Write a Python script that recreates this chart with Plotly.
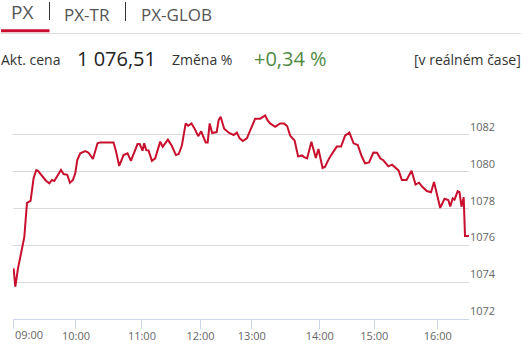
import plotly.graph_objects as go

# ordinal position of each sample (trading-time index) and PX index value
pos = [0.3, 2, 4.7, 8.7, 11, 13.7, 17.3, 20.3, 23, 24.7, 28.7, 32.7, 36, 38.7, 41, 43.7,
       47.7, 50.3, 54, 56.7, 59.7, 62, 64, 67, 72, 75.3, 79.7, 84.3, 87, 100.3, 102.5, 106,
       110.3, 114.3, 117.7, 124.3, 126.5, 129.3, 131, 133, 135.3, 138.7, 142, 147, 149.5,
       154.7, 158.7, 162.7, 165.5, 168.7, 172.5, 175, 178.3, 181.3, 185, 188, 192.5, 194.5,
       196.5, 199, 203.5, 205.5, 207.5, 211, 216, 220.5, 223.7, 226.5, 229.7, 233.7, 237.7,
       242, 247, 252, 254.5, 257, 262, 267, 271, 274, 277, 281.5, 285, 289, 291, 294, 298.3,
       300.5, 302.7, 305.3, 309.5, 312, 316, 321.3, 323.7, 328, 332, 336.3, 340.5, 344.7,
       348.5, 352, 356, 360.3, 364, 367.3, 370.3, 375.3, 379, 385.5, 388.8, 393.5, 398.5,
       402.5, 406, 409.3, 413.8, 418, 421, 427.2, 431.5, 435.3, 437.2, 439.7, 441.5, 444.7,
       446.5, 448.5, 450.7, 452, 456]
values = [1074.75, 1073.75, 1074.75, 1075.75, 1076.44, 1078.31, 1078.42, 1079.64, 1080.09,
          1080.05, 1079.76, 1079.51, 1079.37, 1079.55, 1079.49, 1079.76, 1080.09, 1079.87,
          1079.83, 1079.40, 1079.55, 1079.91, 1080.63, 1081.00, 1081.12, 1081.03, 1080.69,
          1081.54, 1081.59, 1081.59, 1081.17, 1080.31, 1080.90, 1081.00, 1080.59, 1081.50,
          1081.50, 1081.14, 1081.54, 1081.17, 1081.15, 1080.59, 1080.72, 1081.63, 1081.35,
          1081.74, 1081.39, 1080.90, 1080.96, 1081.42, 1082.62, 1082.49, 1082.62, 1082.35,
          1081.93, 1082.19, 1081.59, 1081.59, 1082.62, 1082.10, 1082.15, 1082.80, 1082.98,
          1082.33, 1082.10, 1081.99, 1082.12, 1081.81, 1081.66, 1081.81, 1082.35, 1082.88,
          1082.88, 1083.05, 1082.78, 1082.62, 1082.44, 1082.62, 1082.61, 1082.48, 1081.96,
          1081.69, 1080.83, 1080.88, 1080.79, 1080.72, 1081.63, 1081.17, 1080.74, 1081.23,
          1080.20, 1080.27, 1080.72, 1081.17, 1081.36, 1081.36, 1081.96, 1082.12, 1081.54,
          1081.45, 1080.85, 1080.45, 1080.50, 1081.04, 1081.03, 1080.71, 1080.62, 1080.29,
          1080.38, 1080.07, 1079.55, 1079.55, 1080.05, 1079.30, 1079.40, 1079.18, 1078.95,
          1078.88, 1079.44, 1078.03, 1078.53, 1078.46, 1078.11, 1078.55, 1078.48, 1078.94,
          1078.89, 1078.10, 1078.61, 1076.51, 1076.51]

x_tick_pos = [-0.3, 62.7, 128.7, 187.3, 238.7, 306.7, 361.3, 424.7]
x_tick_labels = ["09:00", "10:00", "11:00", "12:00", "13:00", "14:00", "15:00", "16:00"]
y_tick_vals = [1072, 1074, 1076, 1078, 1080, 1082, 1084]
y_tick_labels = ["1072", "1074", "1076", "1078", "1080", "1082", ""]

tabs = ["PX", "PX-TR", "PX-GLOB"]
price_label = "Akt. cena"
price_value = "1 076,51"
change_label = "Změna %"
change_value = "+0,34 %"
realtime_label = "[v reálném čase]"

W, H = 524, 346
L, R, T, B = 13, 469, 98, 319
RED = "#c8102e"
FONT = "Open Sans"


def px(x):
    return (x - L) / (R - L)


def py(y):
    return (B - y) / (B - T)


fig = go.Figure()
fig.add_trace(go.Scatter(x=pos, y=values, mode="lines",
                         line=dict(color=RED, width=2), hoverinfo="skip"))

annotations = []


def txt(text, x, y, size, color, anchor="left"):
    annotations.append(dict(text=text, x=px(x), y=py(y), xref="paper", yref="paper",
                            xanchor=anchor, yanchor="middle", showarrow=False,
                            font=dict(family=FONT, size=size, color=color)))


txt(tabs[0], 9, 12, 19, "#555555")
txt(tabs[1], 62, 14, 17, "#555555")
txt(tabs[2], 139, 14, 17, "#555555")
txt(price_label, -1, 60, 14, "#333333")
txt(price_value, 75, 59, 20, "#222222")
txt(change_label, 170, 60, 14, "#333333")
txt(change_value, 252, 59, 20, "#4f8a43")
txt(realtime_label, 412, 60, 14, "#333333")
# first x label left-aligned at its tick
annotations.append(dict(text=x_tick_labels[0], x=x_tick_pos[0], y=py(334), xref="x",
                        yref="paper", xanchor="left", yanchor="middle", showarrow=False,
                        font=dict(family=FONT, size=11, color="#666666")))

shapes = [
    dict(type="line", xref="paper", yref="paper", x0=px(0), x1=px(521), y0=py(33.5), y1=py(33.5),
         line=dict(color="#dddddd", width=1)),
    dict(type="line", xref="paper", yref="paper", x0=px(1), x1=px(49.5), y0=py(30.8), y1=py(30.8),
         line=dict(color=RED, width=3)),
    dict(type="line", xref="paper", yref="paper", x0=px(49.5), x1=px(49.5), y0=py(2), y1=py(20),
         line=dict(color="#333333", width=1)),
    dict(type="line", xref="paper", yref="paper", x0=px(125.5), x1=px(125.5), y0=py(2), y1=py(21),
         line=dict(color="#333333", width=1)),
]

fig.update_layout(
    width=W, height=H,
    margin=dict(l=L, r=W - R, t=T, b=H - B, autoexpand=False),
    paper_bgcolor="white", plot_bgcolor="white",
    showlegend=False,
    font=dict(family=FONT, size=11, color="#666666"),
    annotations=annotations,
    shapes=shapes,
    xaxis=dict(range=[-0.3, 456], tickmode="array", tickvals=x_tick_pos,
               ticktext=[""] + x_tick_labels[1:], showgrid=False, zeroline=False,
               showline=True, linecolor="#ccd6eb", linewidth=1, automargin=False,
               ticks="outside", ticklen=9, tickcolor="#ccd6eb", tickwidth=1,
               ticklabelstandoff=-2,
               tickfont=dict(family=FONT, size=11, color="#666666")),
    yaxis=dict(range=[1072, 1084], side="right", tickmode="array", tickvals=y_tick_vals,
               ticktext=y_tick_labels, showgrid=True, gridcolor="#d9d9d9", gridwidth=1,
               zeroline=False, ticks="", ticklabelposition="outside top", automargin=False,
               tickfont=dict(family=FONT, size=11, color="#666666")),
)

fig.write_html("out.html")
